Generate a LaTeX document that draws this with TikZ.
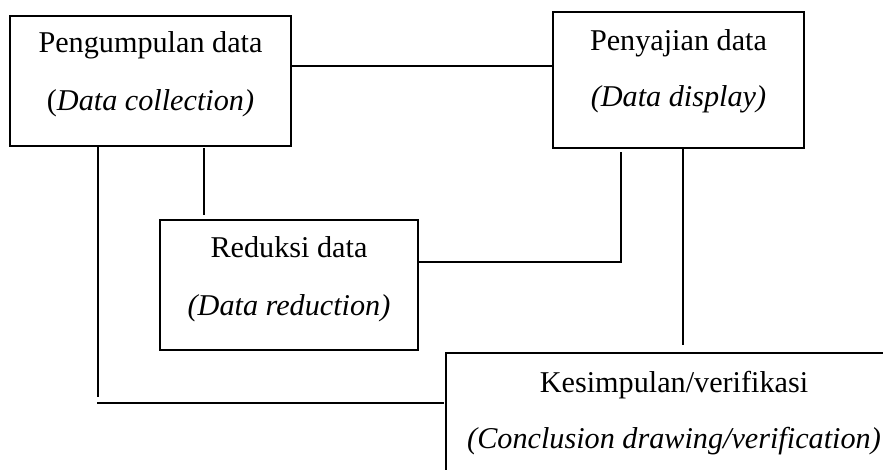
\documentclass[tikz,border=0pt]{standalone}
\usepackage{fontspec}
\setmainfont{Liberation Serif}
\begin{document}
\begin{tikzpicture}[x=1pt,y=-1pt,
  box/.style={draw, line width=1.1pt, inner sep=0pt, outer sep=0pt},
  txt/.style={anchor=base, inner sep=0pt, font=\fontsize{30.2}{36}\selectfont},
  conn/.style={line width=1.1pt}]
\useasboundingbox (0,0) rectangle (883,470);
\clip (0,0) rectangle (883,470);
% boxes
\node[box, minimum width=281pt, minimum height=130pt] (b1) at (150.5,81) {};
\node[box, minimum width=251pt, minimum height=136pt] (b2) at (678.5,80) {};
\node[box, minimum width=258pt, minimum height=130pt] (b3) at (289,285) {};
\node[box, minimum width=474pt, minimum height=147pt] (b4) at (683,426.5) {};
% texts
\node[txt] (t1a) at (150.5,53) {Pengumpulan data};
\node[txt] (t1b) at (150.5,111) {(\textit{Data collection)}};
\node[txt] (t2a) at (678.5,51) {Penyajian data};
\node[txt] (t2b) at (678.5,107) {\textit{(Data display)}};
\node[txt] (t3a) at (289,258) {Reduksi data};
\node[txt] (t3b) at (289,316) {\textit{(Data reduction)}};
\node[txt] (t4a) at (674,392) {Kesimpulan/verifikasi};
\node[txt] (t4b) at (674,448) {\textit{(Conclusion drawing/verification)}};
% helper coordinates
\coordinate (h66) at (0,66);
\coordinate (v204) at (204,0);
\coordinate (v98) at (98,0);
\coordinate (e1) at (98,397);
\coordinate (s1) at (97,403);
\coordinate (v621) at (621,0);
\coordinate (h262) at (0,262);
\coordinate (v683) at (683,0);
% connectors
\draw[conn] (b1.east |- h66) -- (b2.west |- h66);
\draw[conn, shorten <=2pt, shorten >=5pt] (b1.south -| v204) -- (b3.north -| v204);
\draw[conn] (b1.south -| v98) -- (e1);
\draw[conn, shorten >=2pt] (s1) -- (b4.west |- s1);
\draw[conn, shorten >=4pt] (b3.east |- h262) -| (b2.south -| v621);
\draw[conn, shorten >=8pt] (b2.south -| v683) -- (b4.north -| v683);
\end{tikzpicture}
\end{document}
